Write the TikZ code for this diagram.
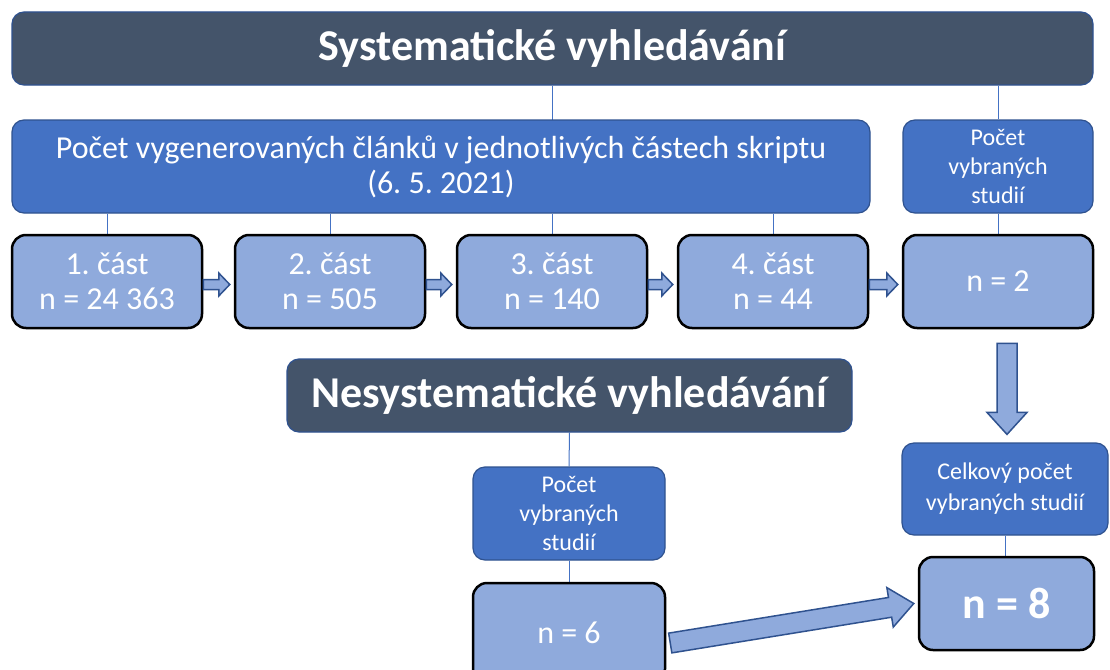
\documentclass[tikz,border=0pt]{standalone}
\usepackage{fontspec}
\setmainfont{Carlito}
\usetikzlibrary{calc}
\pgfdeclarelayer{bg}
\pgfsetlayers{bg,main}
\frenchspacing
\definecolor{slate}{HTML}{44546A}
\definecolor{accblue}{HTML}{4472C4}
\definecolor{lightblue}{HTML}{8FAADC}
\definecolor{edgeblue}{HTML}{2F528F}
% block arrow: tail, tip, half shaft, half head, head length
\newcommand{\blockarr}[5]{%
        \coordinate (hb) at ($(#2)!#5!(#1)$);
        \draw[barrow] ($(#1)!#3!90:(#2)$) -- ($(hb)!#3!90:(#2)$) -- ($(hb)!#4!90:(#2)$) -- (#2)
                -- ($(hb)!#4!-90:(#2)$) -- ($(hb)!#3!-90:(#2)$) -- ($(#1)!#3!-90:(#2)$) -- cycle;
}

\begin{document}
\begin{tikzpicture}[x=1pt, y=-1pt,
        headbox/.style={draw=edgeblue, line width=1.2pt, fill=slate, rounded corners=12pt, text=white,
                font=\bfseries\fontsize{44}{52}\selectfont, inner sep=0pt},
        infobox/.style={draw=edgeblue, line width=1.2pt, fill=accblue, rounded corners=12pt, text=white,
                align=center, inner sep=0pt},
        countbox/.style={draw=black, line width=2.5pt, fill=lightblue, rounded corners=14pt, text=white,
                align=center, inner sep=0pt, font=\fontsize{32}{35}\selectfont},
        link/.style={draw=accblue, line width=1pt},
        barrow/.style={draw=edgeblue, line width=1.5pt, fill=lightblue, line join=miter}]
        \begin{pgfonlayer}{bg}
                \fill[white] (0,0) rectangle (1110,669);
        \end{pgfonlayer}
        \useasboundingbox (0,0) rectangle (1110,669);
        \clip (0,0) rectangle (1110,669);
        \node (sys) [headbox, minimum width=1081, minimum height=73] at (552.5, 48.5) {Systematické vyhledávání};
        \node (pocet) [infobox, minimum width=858, minimum height=93, font=\fontsize{32}{35}\selectfont] at (441, 166.5)
                {Počet vygenerovaných článků v jednotlivých částech skriptu\\(6. 5. 2021)};
        \node (vyb1) [infobox, minimum width=190, minimum height=93, font=\fontsize{24}{29}\selectfont] at (998, 166.5)
                {Počet\\vybraných\\studií};
        \node (c1) [countbox, minimum width=190, minimum height=93] at (107, 281.5) {1. část\\n = 24 363};
        \node (c2) [countbox, minimum width=190, minimum height=93] at (330, 281.5) {2. část\\n = 505};
        \node (c3) [countbox, minimum width=190, minimum height=93] at (552, 281.5) {3. část\\n = 140};
        \node (c4) [countbox, minimum width=190, minimum height=93] at (773, 281.5) {4. část\\n = 44};
        \node (n2) [countbox, minimum width=190, minimum height=93] at (998, 281.5) {n = 2};
        \node (nesys) [headbox, minimum width=565, minimum height=73] at (569.5, 395.5) {Nesystematické vyhledávání};
        \node (vyb2) [infobox, minimum width=192, minimum height=93, font=\fontsize{24}{29}\selectfont] at (569, 513.5)
                {Počet\\vybraných\\studií};
        \node (n6) [countbox, minimum width=192, minimum height=100] at (569, 633) {n = 6};
        \node (celk) [infobox, minimum width=206, minimum height=92, font=\fontsize{24}{31}\selectfont] at (1005, 489)
                {Celkový počet\\vybraných studií};
        \node (n8) [countbox, minimum width=175, minimum height=93, font=\bfseries\fontsize{44}{50}\selectfont] at (1006.5, 603.5)
                {n = 8};
        \coordinate (t1) at ($(c1.east)+(0,3)$);
        \coordinate (h1) at ($(c2.west)+(-4,3)$);
        \coordinate (t2) at ($(c2.east)+(0,3)$);
        \coordinate (h2) at ($(c3.west)+(-4,3)$);
        \coordinate (t3) at ($(c3.east)+(0,3)$);
        \coordinate (h3) at ($(c4.west)+(-4,3)$);
        \coordinate (t4) at ($(c4.east)+(0,3)$);
        \coordinate (h4) at ($(n2.west)+(-4,3)$);
        \coordinate (t5) at ($(n2.south)+(9,14)$);
        \coordinate (h5) at ($(celk.north)+(2,-8)$);
        \coordinate (t6) at ($(n6.east)+(4,10)$);
        \coordinate (h6) at ($(n8.west)+(-4,0)$);
        \blockarr{t1}{h1}{5pt}{11.5pt}{11pt}
        \blockarr{t2}{h2}{5pt}{11.5pt}{11pt}
        \blockarr{t3}{h3}{5pt}{11.5pt}{11pt}
        \blockarr{t4}{h4}{5pt}{11.5pt}{11pt}
        \blockarr{t5}{h5}{10pt}{20pt}{22pt}
        \blockarr{t6}{h6}{10pt}{20pt}{24pt}
        \begin{pgfonlayer}{bg}
                \draw[link] (sys.south -| pocet.north) ++(111.5,0) -- ++(0,35);
                \draw[link] (vyb1.north |- sys.south) -- (vyb1.north);
                \draw[link] (c1.north |- pocet.south) -- (c1.north);
                \draw[link] (c2.north |- pocet.south) -- (c2.north);
                \draw[link] (c3.north |- pocet.south) -- (c3.north);
                \draw[link] (c4.north |- pocet.south) -- (c4.north);
                \draw[link] (vyb1.south) -- (n2.north);
                \draw[link] (nesys.south) -- (vyb2.north);
                \draw[link] (vyb2.south) -- (n6.north);
                \draw[link] (celk.south) -- (n8.north -| celk.south);
        \end{pgfonlayer}
\end{tikzpicture}
\end{document}
